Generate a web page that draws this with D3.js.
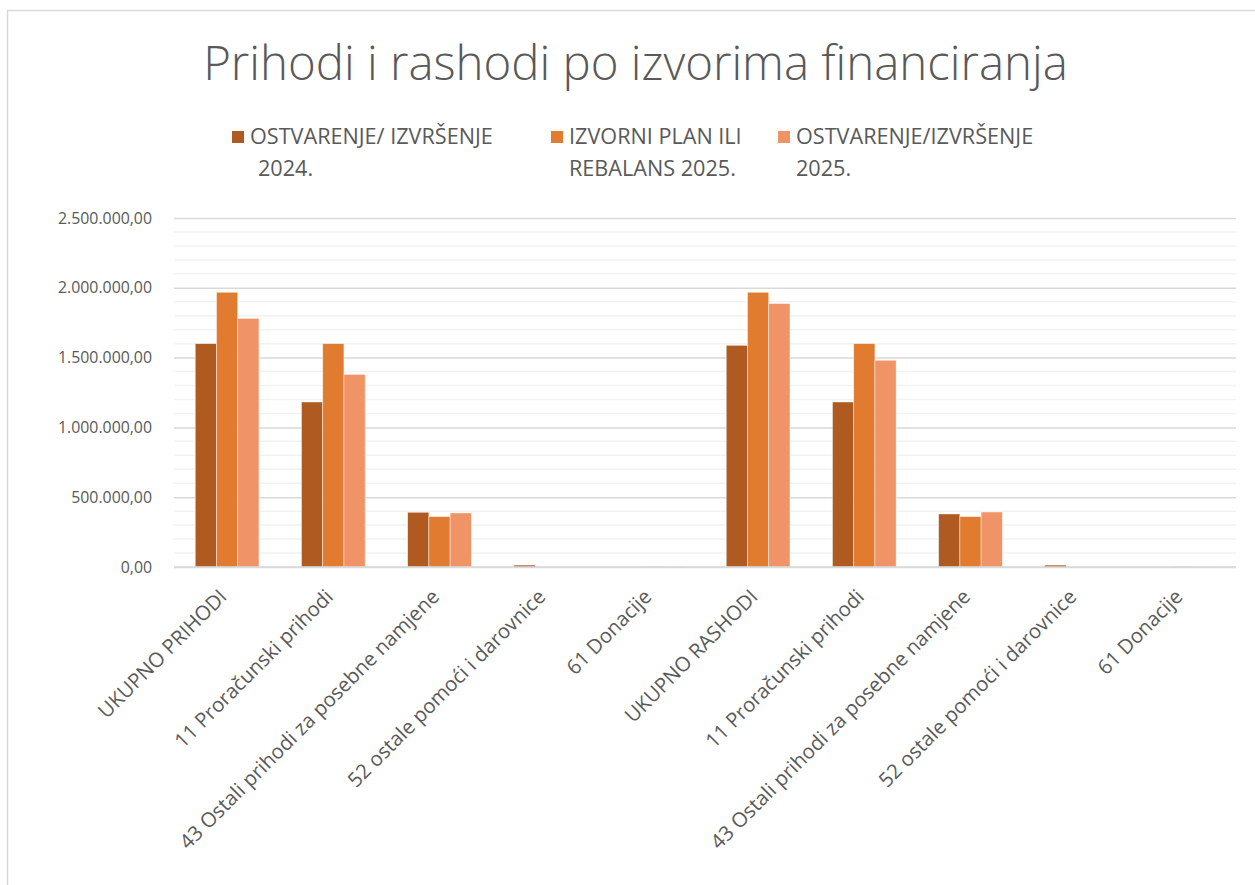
<!DOCTYPE html>
<html>
<head>
<meta charset="utf-8">
<script src="https://cdn.jsdelivr.net/npm/d3@7"></script>
<style>
  body { margin: 0; background: #fff; }
  text { font-family: "Open Sans", "Noto Sans", sans-serif; fill: #595959; }
</style>
</head>
<body>
<div id="viz"></div>
<script>
// chart data
const categories = [
  "UKUPNO PRIHODI", "11 Proračunski prihodi", "43 Ostali prihodi za posebne namjene",
  "52 ostale pomoći i darovnice", "61 Donacije",
  "UKUPNO RASHODI", "11 Proračunski prihodi", "43 Ostali prihodi za posebne namjene",
  "52 ostale pomoći i darovnice", "61 Donacije"
];
const seriesNames = [
  ["OSTVARENJE/ IZVRŠENJE", "2024."],
  ["IZVORNI PLAN ILI", "REBALANS 2025."],
  ["OSTVARENJE/IZVRŠENJE", "2025."]
];
const ostvarenje2024 = [1600000, 1182000, 392000, 12000, 0, 1588000, 1182000, 380000, 12000, 0];
const plan2025 = [1968000, 1600000, 361000, 0, 1500, 1968000, 1600000, 361000, 0, 1500];
const ostvarenje2025 = [1781000, 1380000, 387000, 0, 1500, 1887000, 1481000, 394000, 0, 1500];
const yTicks = [0, 500000, 1000000, 1500000, 2000000, 2500000];
const colors = ["#AE5A21", "#E07B30", "#F09366"];

const series = [ostvarenje2024, plan2025, ostvarenje2025];

const W = 1255, H = 885;
const svg = d3.select("#viz").append("svg")
  .attr("width", W)
  .attr("height", H);

// chart border (only top/left visible in frame)
svg.append("rect")
  .attr("x", 7.5).attr("y", 10.5)
  .attr("width", 1300).attr("height", 1000)
  .attr("fill", "#fff")
  .attr("stroke", "#D9D9D9")
  .attr("stroke-width", 1.5);

// resize font so that a reference string takes a given width
function fitSize(sample, width, weight) {
  const t = svg.append("text").attr("font-size", 100).attr("font-weight", weight || 400).text(sample);
  const w = t.node().getComputedTextLength();
  t.remove();
  return 100 * width / w;
}

const x = d3.scaleBand()
  .domain(d3.range(categories.length))
  .range([174, 1236])
  .paddingInner(0.4)
  .paddingOuter(0.2);
const xs = d3.scaleBand()
  .domain(d3.range(series.length))
  .range([0, x.bandwidth()]);
const y = d3.scaleLinear()
  .domain([0, 2500000])
  .range([567, 218]);

// minor gridlines every 100k
const minor = d3.range(100000, 2500001, 100000).filter(v => v % 500000 !== 0);
svg.append("g").selectAll("line").data(minor).join("line")
  .attr("x1", 174).attr("x2", 1236)
  .attr("y1", d => y(d)).attr("y2", d => y(d))
  .attr("stroke", "#F2F2F2").attr("stroke-width", 1.5);

// y axis with major gridlines
const ySize = fitSize("2.500.000,00", 94);
const fmt = v => d3.format(",.2f")(v).replace(/,/g, "#").replace(".", ",").replace(/#/g, ".");
const yAxis = svg.append("g")
  .attr("transform", "translate(174,0)")
  .call(d3.axisLeft(y).tickValues(yTicks).tickSize(-(1236 - 174)).tickPadding(22).tickFormat(fmt));
yAxis.select(".domain").remove();
yAxis.selectAll(".tick line").attr("stroke", "#D9D9D9").attr("stroke-width", 1.5);
yAxis.selectAll(".tick text")
  .attr("font-size", ySize)
  .attr("font-family", null)
  .attr("fill", "#595959");

// bars
const groups = svg.append("g").selectAll("g").data(series).join("g")
  .attr("fill", (d, i) => colors[i]);
groups.each(function(vals, si) {
  d3.select(this).selectAll("rect").data(vals).join("rect")
    .attr("x", (d, i) => x(i) + xs(si))
    .attr("width", xs.bandwidth())
    .attr("y", d => y(d))
    .attr("height", d => y(0) - y(d))
    .attr("stroke", d => (y(0) - y(d)) > 4 ? "#fff" : "none")
    .attr("stroke-opacity", 0.6)
    .attr("stroke-width", 0.75);
});

// x axis
svg.append("line")
  .attr("x1", 174).attr("x2", 1236)
  .attr("y1", y(0)).attr("y2", y(0))
  .attr("stroke", "#D9D9D9").attr("stroke-width", 1.5);

const xSize = fitSize("UKUPNO PRIHODI", 172);
svg.append("g").selectAll("text").data(categories).join("text")
  .attr("transform", (d, i) => `translate(${x(i) + x.bandwidth() / 2 + 1},${y(0) + 31}) rotate(-45)`)
  .attr("text-anchor", "end")
  .attr("font-size", xSize)
  .text(d => d);

// title
const titleSize = fitSize("Prihodi i rashodi po izvorima financiranja", 865, 300);
svg.append("text")
  .attr("x", 635.5).attr("y", 80)
  .attr("text-anchor", "middle")
  .attr("font-size", titleSize)
  .attr("font-weight", 300)
  .text("Prihodi i rashodi po izvorima financiranja");

// legend
const legSize = fitSize("OSTVARENJE/ IZVRŠENJE", 243);
const legX = [232, 551, 778];
const indent = [8, 0, 0];
const leg = svg.append("g").selectAll("g").data(seriesNames).join("g")
  .attr("transform", (d, i) => `translate(${legX[i]},0)`);
leg.append("rect")
  .attr("x", 0).attr("y", 131)
  .attr("width", 12).attr("height", 12)
  .attr("fill", (d, i) => colors[i]);
leg.append("text")
  .attr("x", 18).attr("y", 144)
  .attr("font-size", legSize)
  .text(d => d[0]);
leg.append("text")
  .attr("x", (d, i) => 18 + indent[i]).attr("y", 176)
  .attr("font-size", legSize)
  .text(d => d[1]);
</script>
</body>
</html>
